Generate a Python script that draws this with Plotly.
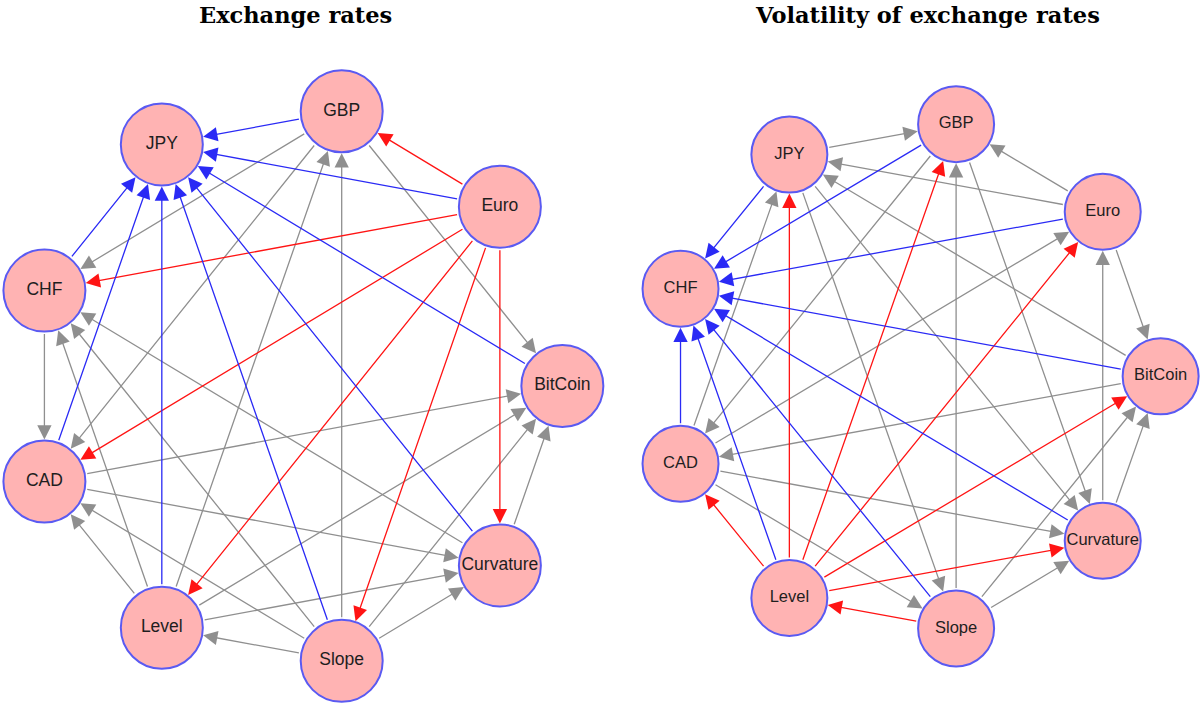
import numpy as np
import plotly.graph_objects as go

# === Data ===
# nodes in the order they sit round the circle (counter-clockwise from BitCoin)
nodes = ["BitCoin", "Euro", "GBP", "JPY", "CHF", "CAD", "Level", "Slope", "Curvature"]

panel_titles = ["Exchange rates", "Volatility of exchange rates"]

# left panel: exchange rates
rates_blue = [("GBP", "JPY"), ("Euro", "JPY"), ("CHF", "JPY"), ("CAD", "JPY"),
              ("Level", "JPY"), ("Slope", "JPY"), ("Curvature", "JPY"), ("BitCoin", "JPY")]
rates_red = [("Euro", "GBP"), ("Euro", "CHF"), ("Euro", "CAD"), ("Euro", "Level"),
             ("Euro", "Slope"), ("Euro", "Curvature")]
rates_gray = [("GBP", "CHF"), ("GBP", "CAD"), ("GBP", "BitCoin"), ("Level", "GBP"),
              ("Slope", "GBP"), ("Level", "CHF"), ("Slope", "CHF"), ("Curvature", "CHF"),
              ("CHF", "CAD"), ("Level", "CAD"), ("Slope", "CAD"), ("CAD", "BitCoin"),
              ("CAD", "Curvature"), ("Level", "BitCoin"), ("Level", "Curvature"),
              ("Slope", "Level"), ("Slope", "Curvature"), ("Slope", "BitCoin"),
              ("Curvature", "BitCoin")]

# right panel: volatility of exchange rates
vol_blue = [("JPY", "CHF"), ("GBP", "CHF"), ("Euro", "CHF"), ("BitCoin", "CHF"),
            ("Curvature", "CHF"), ("Slope", "CHF"), ("Level", "CHF"), ("CAD", "CHF")]
vol_red = [("Level", "JPY"), ("Level", "GBP"), ("Level", "Euro"), ("Level", "BitCoin"),
           ("Level", "Curvature"), ("Level", "CAD"), ("Slope", "Level")]
vol_gray = [("JPY", "GBP"), ("Euro", "GBP"), ("Euro", "JPY"), ("BitCoin", "JPY"),
            ("CAD", "JPY"), ("JPY", "Slope"), ("JPY", "Curvature"), ("Slope", "GBP"),
            ("GBP", "CAD"), ("GBP", "Curvature"), ("Euro", "BitCoin"), ("CAD", "Euro"),
            ("Curvature", "Euro"), ("BitCoin", "CAD"), ("Slope", "BitCoin"),
            ("Curvature", "BitCoin"), ("CAD", "Curvature"), ("CAD", "Slope"),
            ("Slope", "Curvature")]

# === Style ===
NODE_FILL = "#ffb3b3"
NODE_LINE = "#5a5af2"
EDGE_COLORS = {"blue": "#2a2af5", "red": "#ff1414", "gray": "#8f8f8f"}

# circle layout (like igraph's layout_in_circle)
theta = np.deg2rad(np.arange(len(nodes)) * 360 / len(nodes))
pos = {n: (np.cos(t), np.sin(t)) for n, t in zip(nodes, theta)}

panels = [
    dict(xa="x", ya="y", blue=rates_blue, red=rates_red, gray=rates_gray,
         size=82, font=17.5, xr=[-1.106, 1.141], yr=[-1.143, 1.3835], tx=0.246),
    dict(xa="x2", ya="y2", blue=vol_blue, red=vol_red, gray=vol_gray,
         size=76, font=16.5, xr=[-1.265, 1.159], yr=[-1.284, 1.470], tx=0.7725),
]

fig = go.Figure()
annotations = []

for p, title in zip(panels, panel_titles):
    fig.add_trace(go.Scatter(
        x=[pos[n][0] for n in nodes], y=[pos[n][1] for n in nodes],
        mode="markers+text", text=nodes, textposition="middle center",
        textfont=dict(family="Liberation Sans, Arial", size=p["font"], color="#1e1e1e"),
        marker=dict(size=p["size"], color=NODE_FILL, line=dict(color=NODE_LINE, width=2)),
        xaxis=p["xa"], yaxis=p["ya"], hoverinfo="text", cliponaxis=False,
    ))
    off = p["size"] / 2 + 1
    for col in ["gray", "red", "blue"]:
        for src, dst in p[col]:
            annotations.append(dict(
                x=pos[dst][0], y=pos[dst][1], ax=pos[src][0], ay=pos[src][1],
                xref=p["xa"], yref=p["ya"], axref=p["xa"], ayref=p["ya"],
                text="", showarrow=True, arrowhead=2, arrowsize=2.2,
                arrowwidth=1.3, arrowcolor=EDGE_COLORS[col],
                standoff=off, startstandoff=off,
            ))
    annotations.append(dict(
        x=p["tx"], y=1, xref="paper", yref="paper", xanchor="center", yanchor="top",
        text="<b>%s</b>" % title, showarrow=False, yshift=0,
        font=dict(family="DejaVu Serif", size=22.5, color="black"),
    ))

fig.update_layout(
    width=1200, height=705,
    margin=dict(l=0, r=0, t=0, b=0),
    paper_bgcolor="white", plot_bgcolor="white",
    showlegend=False,
    annotations=annotations,
    xaxis=dict(domain=[0, 0.5], range=panels[0]["xr"], visible=False, fixedrange=True),
    yaxis=dict(domain=[0, 1], range=panels[0]["yr"], visible=False, fixedrange=True),
    xaxis2=dict(domain=[0.5, 1], range=panels[1]["xr"], visible=False, fixedrange=True),
    yaxis2=dict(domain=[0, 1], range=panels[1]["yr"], visible=False, fixedrange=True,
                anchor="x2"),
)

# drop the browser's default page margin so the figure fills the window
fig.write_html("out.html", config={"displayModeBar": False},
               post_script="document.body.style.margin='0px';")
